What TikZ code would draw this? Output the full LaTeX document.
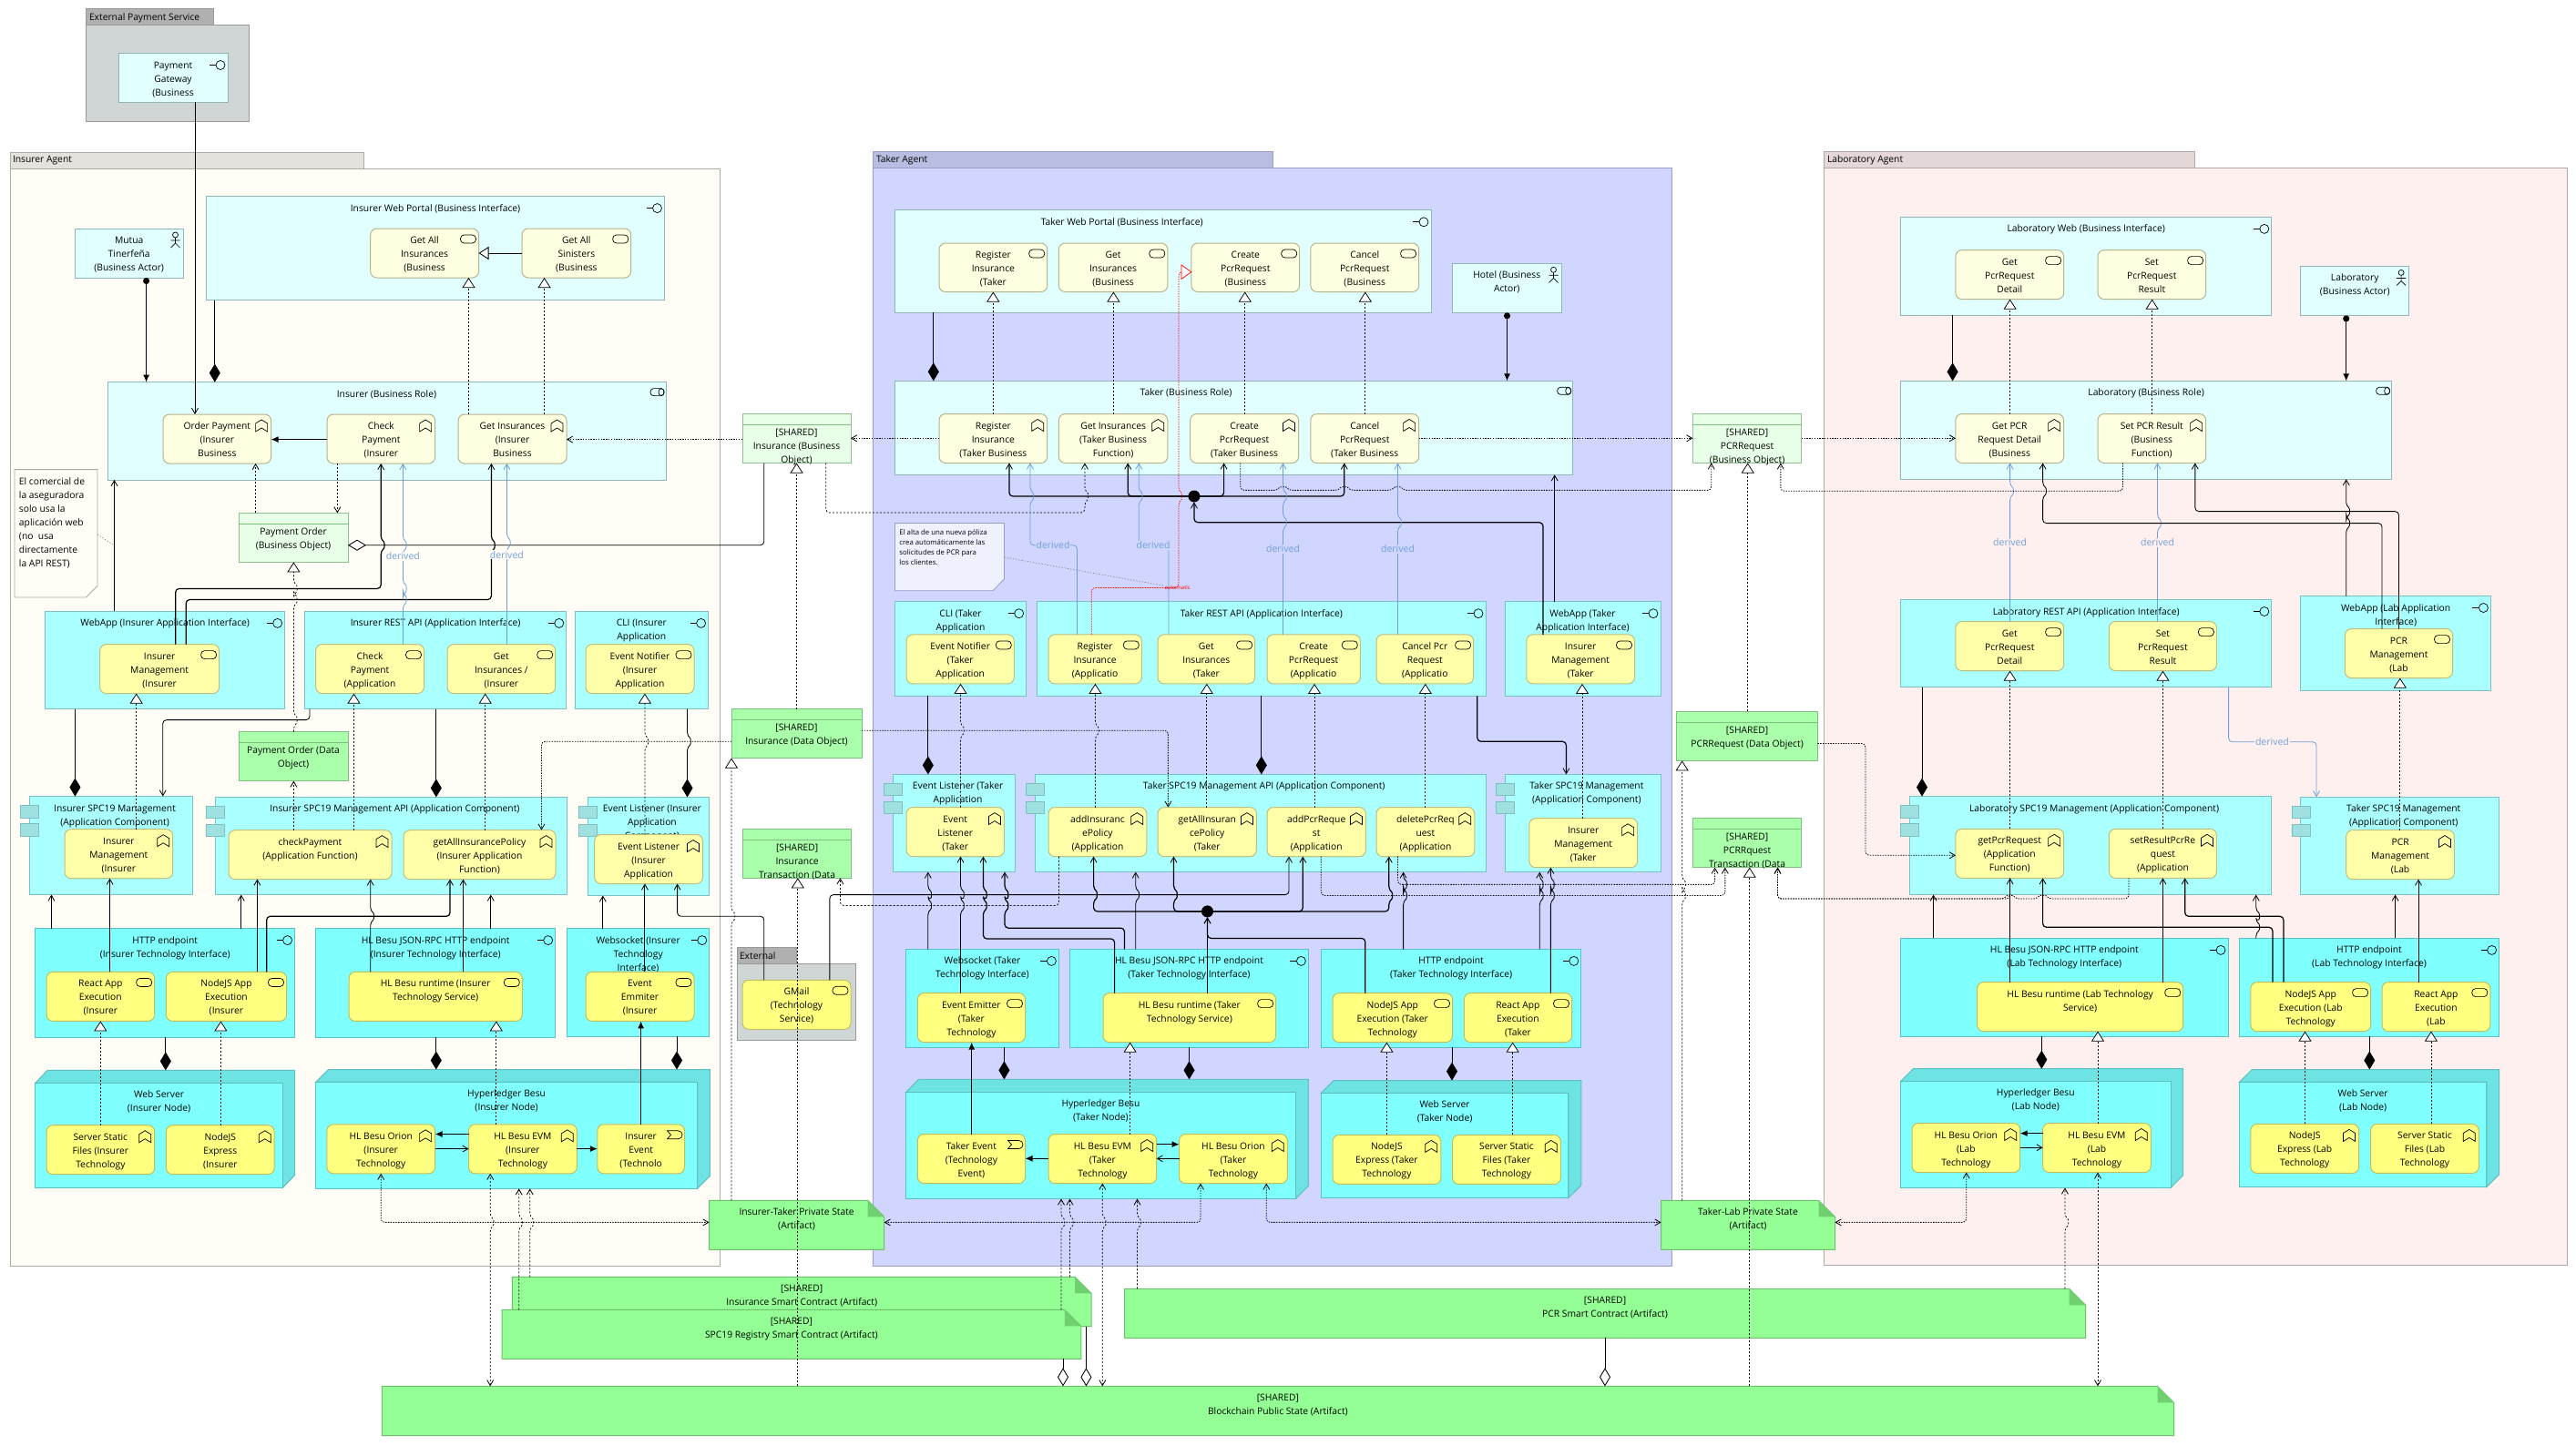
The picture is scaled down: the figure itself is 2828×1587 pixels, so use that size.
\documentclass[tikz,border=0pt]{standalone}
\usepackage{fontspec}
\setmainfont{Open Sans}
\usetikzlibrary{arrows.meta}
\definecolor{bizE}{HTML}{E1FFFF}\definecolor{bizS}{HTML}{8FB5B5}
\definecolor{bizF}{HTML}{FFFFE1}\definecolor{bizFS}{HTML}{B5B58F}
\definecolor{appE}{HTML}{AAFFFF}\definecolor{appS}{HTML}{7FBFBF}
\definecolor{appF}{HTML}{FFFFAA}\definecolor{appFS}{HTML}{BFBF7F}
\definecolor{tecE}{HTML}{80FFFF}\definecolor{tecS}{HTML}{5FBFBF}
\definecolor{tecF}{HTML}{FFFF80}\definecolor{tecFS}{HTML}{BFBF60}
\definecolor{bobj}{HTML}{E8FFE8}\definecolor{bobjS}{HTML}{8FBF8F}
\definecolor{dobj}{HTML}{AAFFAA}\definecolor{dobjS}{HTML}{7FBF7F}
\definecolor{artE}{HTML}{94FF94}\definecolor{artS}{HTML}{6FBF6F}\definecolor{artD}{HTML}{70D070}
\definecolor{ndTop}{HTML}{6EE3E3}
\definecolor{cmpF}{HTML}{9FE0E0}
\definecolor{insB}{HTML}{FFFDF6}\definecolor{insT}{HTML}{E4E2DC}\definecolor{insS}{HTML}{ACACA6}
\definecolor{takB}{HTML}{D0D6FF}\definecolor{takT}{HTML}{B8BEE2}\definecolor{takS}{HTML}{9A9FC5}
\definecolor{labB}{HTML}{FFF0F0}\definecolor{labT}{HTML}{E4D7D7}\definecolor{labS}{HTML}{B0A8A8}
\definecolor{extB}{HTML}{D0D6D6}\definecolor{extT}{HTML}{B0B0B0}\definecolor{extS}{HTML}{999999}
\definecolor{derC}{HTML}{6F9FD8}
\newcommand{\barb}{Straight Barb[length=6pt,width=7pt,line width=.8pt]}
\tikzset{
 elbase/.style={inner sep=0pt,outer sep=0pt,font=\fontsize{10.3}{15}\selectfont},
 bE/.style={elbase,draw=bizS,fill=bizE,line width=1pt},
 bF/.style={elbase,draw=bizFS,fill=bizF,line width=1pt,rounded corners=7pt},
 aE/.style={elbase,draw=appS,fill=appE,line width=1pt},
 aF/.style={elbase,draw=appFS,fill=appF,line width=1pt,rounded corners=7pt},
 tE/.style={elbase,draw=tecS,fill=tecE,line width=1pt},
 tF/.style={elbase,draw=tecFS,fill=tecF,line width=1pt,rounded corners=7pt},
 bO/.style={elbase,draw=bobjS,fill=bobj,line width=1pt},
 dO/.style={elbase,draw=dobjS,fill=dobj,line width=1pt},
 plain/.style={elbase},
 ico/.style={draw=black,line width=.7pt},
 conn/.style={line width=.85pt,black,rounded corners=4pt},
 thk/.style={line width=1.2pt},
 serv/.style={conn,-{\barb}},
 comp/.style={conn,-{Diamond[length=20pt,width=12pt]}},
 aggr/.style={conn,-{Diamond[open,fill=white,length=20pt,width=12pt]}},
 real/.style={conn,line width=.75pt,dash pattern=on 2pt off 2pt,-{Triangle[open,fill=white,length=11pt,width=14pt]}},
 gen/.style={conn,-{Triangle[open,fill=white,length=11pt,width=14pt]}},
 flw/.style={conn,line width=.75pt,dash pattern=on 2pt off 2pt,-{\barb}},
 acc/.style={conn,line width=.85pt,dash pattern=on 1.4pt off 1.4pt,-{\barb}},
 accb/.style={conn,line width=.85pt,dash pattern=on 1.4pt off 1.4pt,{\barb}-{\barb}},
 flwb/.style={conn,line width=.75pt,dash pattern=on 2pt off 2pt,{\barb}-{\barb}},
 trig/.style={conn,line width=1.1pt,-{Latex[length=8pt,width=7pt]}},
 assg/.style={conn,line width=1.1pt,{Circle[length=7pt]}-{Latex[length=8pt,width=7pt]}},
 der/.style={line width=.8pt,derC,rounded corners=4pt,-{\barb}},
 dlab/.style={inner sep=1pt,outer sep=0pt,text=derC,font=\fontsize{10.5}{13}\selectfont},
 ndot/.style={line width=.7pt,gray,dash pattern=on 1.2pt off 2pt},
 ball/.style={circle,fill=black,minimum size=13pt,inner sep=0pt,outer sep=0pt},
}
\newcommand{\ee}[8][16.5]{%
 \pgfmathsetmacro\ew{#6-#4}\pgfmathsetmacro\eh{#7-#5}%
 \node[#3,anchor=north west,minimum width=\ew pt,minimum height=\eh pt] (#2) at (#4,#5) {\parbox[t][\eh pt][t]{\ew pt}{\centering\rule{0pt}{#1pt}#8}};}
\newcommand{\CT}{\leftskip=8pt plus 1fil\relax}
\newcommand{\LT}{\leftskip=5pt\rightskip=0pt plus 1fil\relax}
% icons
\newcommand{\icI}[1]{\begin{scope}[shift={(#1.north east)}]\draw[ico] (-20,13)--(-13,13);\draw[ico] (-8,13) circle (5pt);\end{scope}}
\newcommand{\icS}[1]{\begin{scope}[shift={(#1.north east)}]\draw[ico,rounded corners=4pt] (-20,7) rectangle (-3,16);\end{scope}}
\newcommand{\icF}[1]{\begin{scope}[shift={(#1.north east)}]\draw[ico] (-17,19)--(-17,10)--(-10.5,6)--(-4,10)--(-4,19)--(-10.5,15)--cycle;\end{scope}}
\newcommand{\icR}[1]{\begin{scope}[shift={(#1.north east)}]\draw[ico,rounded corners=3.5pt] (-17,7) rectangle (-2,15);\draw[ico] (-5,11) ellipse (3pt and 4pt);\end{scope}}
\newcommand{\icE}[1]{\begin{scope}[shift={(#1.north east)}]\draw[ico] (-19,7)--(-7,7) .. controls (-1,7) and (-1,16) .. (-7,16) -- (-19,16) -- (-15,11.5) -- cycle;\end{scope}}
\newcommand{\icA}[1]{\begin{scope}[shift={(#1.north east)}]\draw[ico] (-8.5,7) circle (3pt);\draw[ico] (-8.5,10)--(-8.5,16)--(-13.5,21) (-8.5,16)--(-3.5,21) (-13.5,13)--(-3.5,13);\end{scope}}
\newcommand{\cmpR}[1]{\begin{scope}[shift={(#1.north west)}]\draw[fill=cmpF,draw=appS,line width=.8pt] (-10,10) rectangle (10,23.4) (-10,30) rectangle (10,43.4);\end{scope}}
\newcommand{\hdr}[1]{\draw[draw=dobjS,line width=1pt] ([yshift=-12pt]#1.north west) -- ([yshift=-12pt]#1.north east);}
\newcommand{\art}[6]{%
 \fill[artE] (#2,#3)--(#4-18,#3)--(#4,#3+18)--(#4,#5)--(#2,#5)--cycle;
 \draw[artS,line width=1pt] (#4,#3+18)--(#4,#5)--(#2,#5)--(#2,#3)--(#4-18,#3)--(#4,#3+18);
 \fill[artD] (#4-18,#3)--(#4,#3+18)--(#4-18,#3+18)--cycle;
 \ee{#1}{plain}{#2}{#3}{#4}{#5}{#6}}
\newcommand{\nbox}[8]{% name x1 y1 x2 y2 fronttop frontright text
 \draw[tecS,fill=ndTop,line width=1pt] (#2,#6)--(#2+#4-#7,#3)--(#4,#3)--(#4,#5-#6+#3)--(#7,#5)--(#7,#6)--cycle;
 \draw[tecS,fill=tecE,line width=1pt] (#2,#6) rectangle (#7,#5);
 \pgfmathsetmacro\rsk{#4-#7}%
 \ee[30]{#1}{plain}{#2}{#3}{#4}{#5}{\rightskip=\rsk pt plus 1fil\relax #8}}
\newcommand{\vcn}[4]{\draw[#1] (#2 -| #3,0) -- (#4 -| #3,0);}
\newcommand{\hcn}[4]{\draw[#1] (#2 |- 0,#3) -- (#4 |- 0,#3);}
% line hops inside a path: vertical going up / down, horizontal going right / left
\newcommand{\VU}[2]{-- (#1,#2+6) .. controls (#1+4,#2+3) and (#1+4,#2-3) .. (#1,#2-6) }
\newcommand{\VD}[2]{-- (#1,#2-6) .. controls (#1+4,#2-3) and (#1+4,#2+3) .. (#1,#2+6) }
\newcommand{\HR}[2]{-- (#1-6,#2) .. controls (#1-3,#2-4) and (#1+3,#2-4) .. (#1+6,#2) }
\newcommand{\HL}[2]{-- (#1+6,#2) .. controls (#1+3,#2-4) and (#1-3,#2-4) .. (#1-6,#2) }
\begin{document}
\begin{tikzpicture}[x=1pt,y=-1pt]
\useasboundingbox (0,0) rectangle (2828,1587);
\fill[white] (0,0) rectangle (2828,1587);
% ---------- groups
\draw[extS,fill=extT,line width=1pt] (94.5,10) rectangle (234.5,28);
\draw[extS,fill=extB,line width=1pt] (94.5,28) rectangle (273,133);
\node[elbase,anchor=west] (gExt) at (98,19.5) {External Payment Service};
\draw[insS,fill=insT,line width=1pt] (11,167) rectangle (399,185);
\draw[insS,fill=insB,line width=1pt] (11,185) rectangle (790,1390);
\node[elbase,anchor=west] (gIns) at (14,176.5) {Insurer Agent};
\draw[takS,fill=takT,line width=1pt] (958.8,166.5) rectangle (1397,184.4);
\draw[takS,fill=takB,line width=1pt] (958.8,184.4) rectangle (1835,1390.6);
\node[elbase,anchor=west] (gTak) at (962,176) {Taker Agent};
\draw[labS,fill=labT,line width=1pt] (2002.6,166.5) rectangle (2409.8,184.4);
\draw[labS,fill=labB,line width=1pt] (2002.6,184.4) rectangle (2818.4,1389.3);
\node[elbase,anchor=west] (gLab) at (2006,176) {Laboratory Agent};
\draw[extS,fill=extT,line width=1pt] (809,1040.6) rectangle (874,1058.5);
\draw[extS,fill=extB,line width=1pt] (809,1058.5) rectangle (939.4,1142.4);
\node[elbase,anchor=west] (gExt2) at (812,1050) {External};
% ---------- External Payment
\ee{pg}{bE}{130}{58.5}{250}{112}{Payment\\Gateway\\(Business}\icI{pg}
% ---------- Insurer business
\ee{iWeb}{bE}{226.6}{215.6}{729.5}{329.5}{Insurer Web Portal (Business Interface)}\icI{iWeb}
\ee{iGAI}{bF}{406.7}{251}{525.5}{305}{Get All\\Insurances\\(Business}\icS{iGAI}
\ee{iGAS}{bF}{573}{251}{692.7}{305}{Get All\\Sinisters\\(Business}\icS{iGAS}
\ee{iAct}{bE}{82.4}{251}{201}{305}{Mutua\\Tinerfeña\\(Business Actor)}\icA{iAct}
\ee{iRole}{bE}{118}{419.6}{731}{527}{Insurer (Business Role)}\icR{iRole}
\ee{iOP}{bF}{179}{455}{297.6}{509}{Order Payment\\(Insurer\\Business}\icF{iOP}
\ee{iCP}{bF}{359}{455}{477.6}{509}{Check\\Payment\\(Insurer}\icF{iCP}
\ee{iGI}{bF}{503}{455}{622}{509}{Get Insurances\\(Insurer\\Business}\icF{iGI}
% notes
\draw[insS,fill=insB,line width=.8pt] (16,515.6)--(107,515.6)--(107,643.5)--(94.5,656)--(16,656)--cycle;
\ee{n1}{plain}{16}{515.6}{107}{656}{\LT El comercial de\\la aseguradora\\solo usa la\\aplicación web\\(no\ \ usa\\directamente\\la API REST)}
\draw[takS,fill=takB!35!white,line width=.8pt] (982.4,574.5)--(1102.4,574.5)--(1102.4,636)--(1090,648.7)--(982.4,648.7)--cycle;
\ee[13]{n2}{plain}{982.4}{574.5}{1102.4}{648.7}{\fontsize{7.8}{11}\selectfont\leftskip=5pt\rightskip=0pt plus 1fil\relax El alta de una nueva póliza\\crea automáticamente las\\solicitudes de PCR para\\los clientes.}
\ee[24]{poB}{bO}{262}{563.4}{382}{617.4}{Payment Order\\(Business Object)}\hdr{poB}
\ee[24]{shIB}{bO}{815}{454.5}{934}{508.5}{[SHARED]\\Insurance (Business\\Object)}\hdr{shIB}
% ---------- Insurer application
\ee{iWA}{aE}{49.7}{671.4}{312.7}{778.6}{WebApp (Insurer Application Interface)}\icI{iWA}
\ee{iIMs}{aF}{109.7}{707.6}{240.6}{761.6}{Insurer\\Management\\(Insurer}\icS{iIMs}
\ee{iRA}{aE}{334.5}{671.4}{621.8}{778.6}{Insurer REST API (Application Interface)}\icI{iRA}
\ee{iCPa}{aF}{346.7}{707.6}{465.5}{761.6}{Check\\Payment\\(Application}\icS{iCPa}
\ee{iGIa}{aF}{491}{707.6}{609.7}{761.6}{Get\\Insurances /\\(Insurer}\icS{iGIa}
\ee{iCLI}{aE}{631}{671.4}{777.6}{778.6}{CLI (Insurer\\Application}\icI{iCLI}
\ee{iEN}{aF}{643}{707.6}{762}{761.6}{Event Notifier\\(Insurer\\Application}\icS{iEN}
\ee[24]{poD}{dO}{262}{803.6}{382}{857.6}{Payment Order (Data\\Object)}\hdr{poD}
\ee{iMg}{aE}{32.7}{874.5}{211.5}{982.6}{\CT Insurer SPC19 Management\\(Application Component)}\cmpR{iMg}
\ee{iMf}{aF}{71}{910.7}{189.7}{964.7}{Insurer\\Management\\(Insurer}\icF{iMf}
\ee{iAPI}{aE}{236.4}{875.4}{622.4}{982.6}{\CT Insurer SPC19 Management API (Application Component)}\cmpR{iAPI}
\ee{iChk}{aF}{251}{911.6}{430}{965.6}{checkPayment\\(Application Function)}\icF{iChk}
\ee{iGAP}{aF}{443}{911.6}{610}{965.6}{getAllInsurancePolicy\\(Insurer Application\\Function)}\icF{iGAP}
\ee{iEL}{aE}{645}{875.4}{778.8}{983.5}{\CT Event Listener (Insurer\\Application\\Component)}\cmpR{iEL}
\ee{iELf}{aF}{652.7}{916.5}{771.5}{970.5}{Event Listener\\(Insurer\\Application}\icF{iELf}
% ---------- Insurer technology
\ee{iHTTP}{tE}{38.8}{1019.6}{323.6}{1139.3}{HTTP endpoint\\(Insurer Technology Interface)}\icI{iHTTP}
\ee{iRe}{tF}{51}{1067.4}{169.7}{1121.4}{React App\\Execution\\(Insurer}\icS{iRe}
\ee{iNo}{tF}{182.4}{1067.4}{314.5}{1121.4}{NodeJS App\\Execution\\(Insurer}\icS{iNo}
\ee{iJR}{tE}{346.7}{1019.6}{609.7}{1139.3}{HL Besu JSON-RPC HTTP endpoint\\(Insurer Technology Interface)}\icI{iJR}
\ee{iRt}{tF}{383}{1067.4}{573.3}{1121.4}{HL Besu runtime (Insurer\\Technology Service)}\icS{iRt}
\ee{iWS}{tE}{622.4}{1019.6}{778.8}{1138.4}{Websocket (Insurer\\Technology\\Interface)}\icI{iWS}
\ee{iEm}{tF}{643}{1067.4}{762}{1121.4}{Event\\Emmiter\\(Insurer}\icS{iEm}
\nbox{iSrv}{38.8}{1175.4}{323.6}{1304.5}{1189.3}{310.3}{Web Server\\(Insurer Node)}
\ee{iSS}{tF}{51}{1235.7}{169.7}{1289.7}{Server Static\\Files (Insurer\\Technology}\icF{iSS}
\ee{iNE}{tF}{182.4}{1235.7}{301.2}{1289.7}{NodeJS\\Express\\(Insurer}\icF{iNE}
\nbox{iHL}{346.7}{1174.5}{779.4}{1305.4}{1188.4}{765.5}{Hyperledger Besu\\(Insurer Node)}
\ee{iOr}{tF}{358.8}{1234.8}{477.6}{1288.8}{HL Besu Orion\\(Insurer\\Technology}\icF{iOr}
\ee{iEV}{tF}{514.5}{1234.8}{633.3}{1288.8}{HL Besu EVM\\(Insurer\\Technology}\icF{iEV}
\ee{iEv}{tF}{655.8}{1234.8}{751.5}{1288.8}{Insurer\\Event\\(Technolo}\icE{iEv}
% ---------- shared
\ee[24]{shID}{dO}{803}{778.6}{946}{832.6}{[SHARED]\\Insurance (Data Object)}\hdr{shID}
\ee[24]{shIT}{dO}{815.8}{910.3}{934.5}{964.3}{[SHARED]\\Insurance\\Transaction (Data}\hdr{shIT}
\ee{gm}{tF}{815}{1076.3}{934}{1130.4}{GMail\\(Technology\\Service)}\icS{gm}
\ee[24]{shPB}{bO}{1858.4}{454.5}{1977.7}{508.5}{[SHARED]\\PCRRequest\\(Business Object)}\hdr{shPB}
\ee[24]{shPD}{dO}{1840.7}{781.3}{1995.4}{835.3}{[SHARED]\\PCRRequest (Data Object)}\hdr{shPD}
\ee[24]{shPT}{dO}{1858.4}{898.7}{1977.7}{952.7}{[SHARED]\\PCRRquest\\Transaction (Data}\hdr{shPT}
\art{itps}{778.5}{1318.3}{970.7}{1372.3}{Insurer-Taker Private State\\(Artifact)}
\art{tlps}{1823.5}{1318.3}{2014.5}{1372.3}{Taker-Lab Private State\\(Artifact)}
\art{isc}{562.4}{1402.3}{1198}{1456.7}{[SHARED]\\Insurance Smart Contract (Artifact)}
\art{spc}{551}{1438.3}{1186.8}{1492.3}{[SHARED]\\SPC19 Registry Smart Contract (Artifact)}
\art{pcr}{1234.5}{1415.3}{2289.6}{1469.3}{[SHARED]\\PCR Smart Contract (Artifact)}
\art{bc}{419.3}{1522.3}{2386.5}{1576.7}{[SHARED]\\Blockchain Public State (Artifact)}
% ---------- Taker business
\ee{tWeb}{bE}{982.4}{230.8}{1571}{343.3}{\rightskip=90pt plus 1fil\relax Taker Web Portal (Business Interface)}\icI{tWeb}
\ee{tRIs}{bF}{1031}{267}{1149.7}{320.5}{Register\\Insurance\\(Taker}\icS{tRIs}
\ee{tGIs}{bF}{1162.4}{267}{1281.8}{320.5}{Get\\Insurances\\(Business}\icS{tGIs}
\ee{tCPs}{bF}{1307.9}{267}{1426.7}{320.5}{Create\\PcrRequest\\(Business}\icS{tCPs}
\ee{tXPs}{bF}{1438.8}{267}{1557.6}{320.5}{Cancel\\PcrRequest\\(Business}\icS{tXPs}
\ee{tAct}{bE}{1594.5}{289.3}{1714}{343.3}{Hotel (Business\\Actor)}\icA{tAct}
\ee{tRole}{bE}{982.4}{418.3}{1726.7}{521.4}{\rightskip=105pt plus 1fil\relax Taker (Business Role)}\icR{tRole}
\ee{tRIf}{bF}{1031}{454.5}{1149.7}{508.5}{Register\\Insurance\\(Taker Business}\icF{tRIf}
\ee{tGIf}{bF}{1162.4}{454.5}{1281.8}{508.5}{Get Insurances\\(Taker Business\\Function)}\icF{tGIf}
\ee{tCPf}{bF}{1306.7}{454.5}{1425.5}{508.5}{Create\\PcrRequest\\(Taker Business}\icF{tCPf}
\ee{tXPf}{bF}{1438.8}{454.5}{1557.6}{508.5}{Cancel\\PcrRequest\\(Taker Business}\icF{tXPf}
% Taker application
\ee{tCLI}{aE}{982.4}{660.7}{1126.7}{764.3}{CLI (Taker\\Application}\icI{tCLI}
\ee{tEN}{aF}{995}{696.9}{1113.3}{750.9}{Event Notifier\\(Taker\\Application}\icS{tEN}
\ee{tRA}{aE}{1138.8}{660.7}{1631}{764.3}{Taker REST API (Application Interface)}\icI{tRA}
\ee{tRIa}{aF}{1151}{696.9}{1253.3}{750.9}{Register\\Insurance\\(Applicatio}\icS{tRIa}
\ee{tGIa}{aF}{1271}{696.9}{1377.6}{750.9}{Get\\Insurances\\(Taker}\icS{tGIa}
\ee{tCPa}{aF}{1391}{696.9}{1493.3}{750.9}{Create\\PcrRequest\\(Applicatio}\icS{tCPa}
\ee{tXPa}{aF}{1511}{696.9}{1617.6}{750.9}{Cancel Pcr\\Request\\(Applicatio}\icS{tXPa}
\ee{tWA}{aE}{1652}{660.7}{1823}{764.3}{WebApp (Taker\\Application Interface)}\icI{tWA}
\ee{tIMs}{aF}{1675.8}{696.9}{1794.5}{750.9}{Insurer\\Management\\(Taker}\icS{tIMs}
\ee{tEL}{aE}{980.6}{850.4}{1114.5}{957.6}{\CT Event Listener (Taker\\Application}\cmpR{tEL}
\ee{tELf}{aF}{995}{886.6}{1102.4}{940.6}{Event\\Listener\\(Taker}\icF{tELf}
\ee{tAPI}{aE}{1136.4}{850.4}{1631}{957.6}{\CT Taker SPC19 Management API (Application Component)}\cmpR{tAPI}
\ee{tAI}{aF}{1151}{886.6}{1258.8}{940.6}{addInsuranc\\ePolicy\\(Application}\icF{tAI}
\ee{tGA}{aF}{1271}{886.6}{1379.4}{940.6}{getAllInsuran\\cePolicy\\(Taker}\icF{tGA}
\ee{tAP}{aF}{1391}{886.6}{1499.4}{940.6}{addPcrReque\\st\\(Application}\icF{tAP}
\ee{tDP}{aF}{1511}{886.6}{1618.8}{940.6}{deletePcrReq\\uest\\(Application}\icF{tDP}
\ee{tMg}{aE}{1652.7}{850.4}{1823}{957.6}{\CT Taker SPC19 Management\\(Application Component)}\cmpR{tMg}
\ee{tIMf}{aF}{1678.8}{898.7}{1797.6}{952.7}{Insurer\\Management\\(Taker}\icF{tIMf}
% Taker technology
\ee{tWS}{tE}{994.5}{1042.4}{1162.4}{1150.4}{Websocket (Taker\\Technology Interface)}\icI{tWS}
\ee{tEm}{tF}{1007.3}{1090.6}{1125.5}{1144.6}{Event Emitter\\(Taker\\Technology}\icS{tEm}
\ee{tJR}{tE}{1174.5}{1042.4}{1436.4}{1150.4}{HL Besu JSON-RPC HTTP endpoint\\(Taker Technology Interface)}\icI{tJR}
\ee{tRt}{tF}{1211}{1090.6}{1400.6}{1144.6}{HL Besu runtime (Taker\\Technology Service)}\icS{tRt}
\ee{tHTTP}{tE}{1450.3}{1042.4}{1735.8}{1150.4}{HTTP endpoint\\(Taker Technology Interface)}\icI{tHTTP}
\ee{tNo}{tF}{1463}{1090.6}{1594.5}{1144.6}{NodeJS App\\Execution (Taker\\Technology}\icS{tNo}
\ee{tRe}{tF}{1607.3}{1090.6}{1725.5}{1144.6}{React App\\Execution\\(Taker}\icS{tRe}
\nbox{tHL}{994.5}{1185.3}{1436.4}{1316.5}{1199.6}{1422.4}{Hyperledger Besu\\(Taker Node)}
\ee{tEv}{tF}{1007.3}{1245.5}{1125.5}{1299.6}{Taker Event\\(Technology\\Event)}\icE{tEv}
\ee{tEV}{tF}{1151}{1245.5}{1269.7}{1299.6}{HL Besu EVM\\(Taker\\Technology}\icF{tEV}
\ee{tOr}{tF}{1294.5}{1245.5}{1413.3}{1299.6}{HL Besu Orion\\(Taker\\Technology}\icF{tOr}
\nbox{tSrv}{1450.3}{1186.6}{1735.8}{1315.6}{1200.4}{1721.8}{Web Server\\(Taker Node)}
\ee{tNE}{tF}{1463}{1246.4}{1581.8}{1300.4}{NodeJS\\Express (Taker\\Technology}\icF{tNE}
\ee{tSS}{tF}{1594.5}{1246.4}{1713.3}{1300.4}{Server Static\\Files (Taker\\Technology}\icF{tSS}
% ---------- Lab business
\ee{lWeb}{bE}{2086.6}{238.4}{2493.8}{346.4}{Laboratory Web (Business Interface)}\icI{lWeb}
\ee{lGs}{bF}{2146.9}{274.6}{2265.6}{328.6}{Get\\PcrRequest\\Detail}\icS{lGs}
\ee{lSs}{bF}{2303}{274.6}{2421.6}{328.6}{Set\\PcrRequest\\Result}\icS{lSs}
\ee{lAct}{bE}{2525.9}{292.4}{2644.6}{346.4}{Laboratory\\(Business Actor)}\icA{lAct}
\ee{lRole}{bE}{2086.6}{418.3}{2625.6}{526.3}{Laboratory (Business Role)}\icR{lRole}
\ee{lGf}{bF}{2146.9}{454.5}{2265.6}{508.5}{Get PCR\\Request Detail\\(Business}\icF{lGf}
\ee{lSf}{bF}{2303}{454.5}{2421.6}{508.5}{Set PCR Result\\(Business\\Function)}\icF{lSf}
% Lab application
\ee{lRA}{aE}{2086.6}{658.5}{2493.8}{754.5}{Laboratory REST API (Application Interface)}\icI{lRA}
\ee{lGa}{aF}{2146.9}{682.6}{2265.6}{736.6}{Get\\PcrRequest\\Detail}\icS{lGa}
\ee{lSa}{aF}{2315.4}{682.6}{2433.4}{736.6}{Set\\PcrRequest\\Result}\icS{lSa}
\ee{lWA}{aE}{2525.9}{654.5}{2734.4}{758.5}{WebApp (Lab Application\\Interface)}\icI{lWA}
\ee{lPMs}{aF}{2574.4}{690.6}{2692.5}{744.6}{PCR\\Management\\(Lab}\icS{lPMs}
\ee{lAPI}{aE}{2096.4}{874.6}{2493.8}{982.6}{\CT Laboratory SPC19 Management (Application Component)}\cmpR{lAPI}
\ee{lGf2}{aF}{2146.9}{910.3}{2265.6}{964.3}{getPcrRequest\\(Application\\Function)}\icF{lGf2}
\ee{lSf2}{aF}{2315.4}{910.3}{2433.4}{964.3}{setResultPcrRe\\quest\\(Application}\icF{lSf2}
\ee{lMg}{aE}{2525.9}{875.4}{2743.6}{982.6}{\CT Taker SPC19 Management\\(Application Component)}\cmpR{lMg}
\ee{lPMf}{aF}{2575.7}{911.6}{2694.4}{965.6}{PCR\\Management\\(Lab}\icF{lPMf}
% Lab technology
\ee{lJR}{tE}{2086.6}{1030.4}{2446}{1138.4}{HL Besu JSON-RPC HTTP endpoint\\(Lab Technology Interface)}\icI{lJR}
\ee{lRt}{tF}{2170.5}{1078.6}{2396.7}{1132.6}{HL Besu runtime (Lab Technology\\Service)}\icS{lRt}
\ee{lHTTP}{tE}{2458.4}{1030.4}{2743.6}{1138.4}{HTTP endpoint\\(Lab Technology Interface)}\icI{lHTTP}
\ee{lNo}{tF}{2470.8}{1078.6}{2602.6}{1132.6}{NodeJS App\\Execution (Lab\\Technology}\icS{lNo}
\ee{lRe}{tF}{2615}{1078.6}{2733.8}{1132.6}{React App\\Execution\\(Lab}\icS{lRe}
\nbox{lHL}{2086.6}{1173.7}{2396.7}{1304.5}{1187.5}{2383}{Hyperledger Besu\\(Lab Node)}
\ee{lOr}{tF}{2099}{1233.5}{2217.7}{1287.5}{HL Besu Orion\\(Lab\\Technology}\icF{lOr}
\ee{lEV}{tF}{2242.6}{1233.5}{2361.3}{1287.5}{HL Besu EVM\\(Lab\\Technology}\icF{lEV}
\nbox{lSrv}{2458.4}{1174.5}{2743.6}{1303.6}{1188.4}{2729.8}{Web Server\\(Lab Node)}
\ee{lNE}{tF}{2470.8}{1234.4}{2589.5}{1288.4}{NodeJS\\Express (Lab\\Technology}\icF{lNE}
\ee{lSS}{tF}{2602.6}{1234.4}{2721.3}{1288.4}{Server Static\\Files (Lab\\Technology}\icF{lSS}
% ========== connectors: Insurer
\vcn{serv}{pg.south}{214}{iOP.north}
\vcn{assg}{iAct.south}{160.6}{iRole.north}
\vcn{comp}{iWeb.south}{235.8}{iRole.north}
\vcn{real}{iGI.north}{514.5}{iGAI.south}
\vcn{real}{iGI.north}{597.6}{iGAS.south}
\hcn{gen}{iGAS.west}{278}{iGAI.east}
\hcn{trig}{iCP.west}{482.6}{iOP.east}
\hcn{acc}{shIB.west}{482.6}{iGI.east}
\vcn{flw}{poB.north}{280.6}{iOP.south}
\vcn{flw}{iCP.south}{370.3}{poB.north}
\draw[aggr] (shIB.south -| 838.8,0) -- (838.8,598.7) -- (poB.east |- 0,598.7);
\vcn{serv}{iWA.north}{125.5}{iRole.south}
\draw[serv,thk] (iIMs.north -| 192.7,0) -- (192.7,646.4) -- (418.2,646.4) \VU{418.2}{598.7} -- (iCP.south -| 418.2,0);
\draw[serv,thk] (iIMs.north -| 204.2,0) -- (204.2,658.5) -- (539.4,658.5) \VU{539.4}{598.7} -- (iGI.south -| 539.4,0);
\draw[der] (iCPa.north -| 442.4,0) \VU{442.4}{658.5} \VU{442.4}{646.4} \VU{442.4}{598.7} -- (iCP.south -| 442.4,0);
\draw[der] (iGIa.north -| 556.4,0) \VU{556.4}{596} -- (iGI.south -| 556.4,0);
\node[dlab,fill=insB] (d1) at (442.4,610.7) {derived};
\node[dlab,fill=insB] (d2) at (556.4,609.4) {derived};
\draw[ndot] (n1.east |- 0,587) -- (124,598);
\draw[real] (poD.north -| 322.4,0) \VU{322.4}{790.6} \VU{322.4}{658.5} \VU{322.4}{646.4} -- (poB.south -| 322.4,0);
\vcn{flw}{iChk.north}{322.4}{poD.south}
\draw[serv] (iRA.south -| 340,0) -- (340,790.6) -- (178.8,790.6) -- (iMg.north -| 178.8,0);
\vcn{comp}{iWA.south}{82.4}{iMg.north}
\vcn{real}{iMf.north}{149.7}{iIMs.south}
\vcn{real}{iChk.north}{388.5}{iCPa.south}
\vcn{real}{iGAP.north}{532.7}{iGIa.south}
\vcn{comp}{iRA.south}{478.8}{iAPI.north}
\draw[comp] (iCLI.south -| 754.5,0) \VD{754.5}{814.3} -- (iEL.north -| 754.5,0);
\draw[real] (iELf.north -| 707.9,0) \VU{707.9}{814.3} -- (iEN.south -| 707.9,0);
\draw[acc] (shID.west |- 0,814.3) -- (594.5,814.3) -- (iGAP.north -| 594.5,0);
\vcn{real}{shID.north}{874.5}{shIB.south}
\draw[real] (itps.north -| 803,0) \VU{803}{1006.3} -- (shID.south -| 803,0);
\vcn{real}{bc.north}{875.8}{shIT.south}
\vcn{serv}{iHTTP.north}{56.4}{iMg.south}
\vcn{serv}{iHTTP.north}{264.8}{iAPI.south}
\vcn{serv}{iRe.north}{120.6}{iMf.south}
\vcn{serv}{iNo.north}{282.4}{iChk.south}
\draw[serv,thk] (iNo.north -| 292.7,0) -- (292.7,1006.3) -- (494,1006.3) -- (iGAP.south -| 494,0);
\draw[serv] (iRt.north -| 406.7,0) \VU{406.7}{1006.3} -- (iChk.south -| 406.7,0);
\vcn{serv}{iRt.north}{508.5}{iGAP.south}
\vcn{serv}{iJR.north}{538.8}{iAPI.south}
\vcn{serv}{iWS.north}{661.8}{iEL.south}
\vcn{serv}{iEm.north}{707.9}{iELf.south}
\draw[serv] (gm.north -| 838.8,0) -- (838.8,1006.3) -- (743.6,1006.3) -- (iELf.south -| 743.6,0);
\draw[serv] (gm.north -| 910.9,0) -- (910.9,982.6) -- (1415,982.6) -- (tAP.south -| 1415,0);
\draw[flw] (tAI.south -| 1162.4,0) -- (1162.4,994.6) -- (922.4,994.6) -- (shIT.south -| 922.4,0);
\vcn{comp}{iHTTP.south}{181.8}{iSrv.north}
\vcn{comp}{iJR.south}{478.8}{iHL.north}
\vcn{comp}{iWS.south}{743}{iHL.north}
\vcn{real}{iSS.north}{110.3}{iRe.south}
\vcn{real}{iNE.north}{242.4}{iNo.south}
\vcn{real}{iEV.north}{544.8}{iRt.south}
\vcn{trig}{iEv.north}{703.6}{iEm.south}
\hcn{trig}{iEV.west}{1245.5}{iOr.east}
\hcn{serv}{iOr.east}{1261.6}{iEV.west}
\hcn{trig}{iEV.east}{1261.6}{iEv.west}
\draw[accb] (itps.west |- 0,1342.4) -- (418.2,1342.4) -- (iOr.south -| 418.2,0);
\draw[flwb] (bc.north -| 538.2,0) \VU{538.2}{1342.4} -- (iEV.south -| 538.2,0);
\draw[flw] (spc.north -| 569.7,0) \VU{569.7}{1342.4} -- (iHL.south -| 569.7,0);
\draw[flw] (isc.north -| 581.8,0) \VU{581.8}{1342.4} -- (iHL.south -| 581.8,0);
\draw[flw] (spc.north -| 1165,0) \VU{1165}{1342.4} -- (tHL.south -| 1165,0);
\draw[flw] (isc.north -| 1174.5,0) \VU{1174.5}{1342.4} -- (tHL.south -| 1174.5,0);
\draw[flw] (pcr.north -| 1248.5,0) \VU{1248.5}{1342.4} -- (tHL.south -| 1248.5,0);
\draw[flw] (pcr.north -| 2266.9,0) \VU{2266.9}{1342.4} -- (lHL.south -| 2266.9,0);
\draw[flwb] (bc.north -| 1210.3,0) \VU{1210.3}{1342.4} -- (tEV.south -| 1210.3,0);
\vcn{flwb}{bc.north}{2303}{lEV.south}
\vcn{aggr}{spc.south}{1167}{bc.north}
\vcn{aggr}{isc.south}{1192.4}{bc.north}
\vcn{aggr}{pcr.south}{1762}{bc.north}
% ========== connectors: Taker
\draw[accb] (itps.east |- 0,1342.4) -- (1318,1342.4) -- (tOr.south -| 1318,0);
\draw[accb] (tOr.south -| 1390.3,0) -- (1390.3,1342.4) -- (tlps.west |- 0,1342.4);
\draw[accb] (tlps.east |- 0,1342.4) -- (2158.7,1342.4) -- (lOr.south -| 2158.7,0);
\draw[real] (tlps.north -| 1846.6,0) \VU{1846.6}{983.5} \VU{1846.6}{971.4} -- (shPD.south -| 1846.6,0);
\vcn{real}{bc.north}{1920.7}{shPT.south}
\vcn{real}{shPD.north}{1918.7}{shPB.south}
\draw[acc] (shPD.east |- 0,816.5) -- (2047.9,816.5) -- (2047.9,939.3) -- (lGf2.west |- 0,939.3);
\vcn{comp}{tWeb.south}{1024.8}{tRole.north}
\vcn{assg}{tAct.south}{1654.5}{tRole.north}
\vcn{real}{tRIf.north}{1090.3}{tRIs.south}
\vcn{real}{tGIf.north}{1222.4}{tGIs.south}
\vcn{real}{tCPf.north}{1366.7}{tCPs.south}
\vcn{real}{tXPf.north}{1498.8}{tXPs.south}
\hcn{acc}{tRIf.west}{481.3}{shIB.east}
\hcn{acc}{tXPf.east}{481.3}{shPB.west}
\hcn{acc}{shPB.east}{481.3}{lGf.west}
\draw[flw] (shIB.south -| 906.7,0) -- (906.7,563) -- (1190.9,563) \VU{1190.9}{545} -- (tGIf.south -| 1190.9,0);
\draw[acc] (tCPf.south -| 1361.8,0) -- (1361.8,538.4) \HR{1408.5}{538.4} \HR{1475.8}{538.4} \HR{1534.5}{538.4} -- (1878.7,538.4) -- (shPB.south -| 1878.7,0);
\node[ball] (j1) at (1310.9,545) {};
\draw[serv,thk] (j1.center) -- (1107.9,545) -- (tRIf.south -| 1107.9,0);
\draw[serv,thk] (j1.center) -- (1238.2,545) -- (tGIf.south -| 1238.2,0);
\draw[serv,thk] (j1.center) -- (1343.6,545) -- (tCPf.south -| 1343.6,0);
\draw[serv,thk] (j1.center) -- (1408.5,545) -- (1475.8,545) -- (tXPf.south -| 1475.8,0);
\draw[serv,thk] (tIMs.north -| 1693.9,0) -- (1693.9,573.7) -- (1310.9,573.7) -- (j1.south);
\vcn{serv}{tWA.north}{1706.7}{tRole.south}
\draw[der] (tRIa.north -| 1182.4,0) -- (1182.4,598.7) -- (1130.9,598.7) \VU{1130.9}{545} -- (tRIf.south -| 1130.9,0);
\draw[der] (tGIa.north -| 1283,0) -- (1283,598.7) -- (1250.3,598.7) \VU{1250.3}{545} -- (tGIf.south -| 1250.3,0);
\draw[der] (tCPa.north -| 1408.5,0) \VU{1408.5}{573.7} \VU{1408.5}{545} -- (tCPf.south -| 1408.5,0);
\draw[der] (tXPa.north -| 1534.5,0) \VU{1534.5}{573.7} -- (tXPf.south -| 1534.5,0);
\node[dlab,fill=takB] (d3) at (1156,599) {derived};
\node[dlab,fill=takB] (d4) at (1266,599) {derived};
\node[dlab,fill=takB] (d5) at (1408.5,603) {derived};
\node[dlab,fill=takB] (d6) at (1534.5,603) {derived};
\draw[red,line width=.7pt,rounded corners=4pt,dash pattern=on 1.5pt off 1.2pt] (tRIa.north -| 1198.2,0) -- (1198.2,645.5) -- (1293.9,645.5) \VU{1293.9}{545} -- (1293.9,298.7) -- (1297,298.7);
\draw[red,fill=white,line width=.7pt] (tCPs.west |- 0,298.7) -- (1297,291) -- (1297,306.4) -- cycle;
\draw[ndot] (n2.east |- 0,612) -- (1277,643);
\node[inner sep=0pt,text=red,font=\fontsize{6}{7}\selectfont] (autoL) at (1292.7,645.5) {automatic};
\vcn{comp}{tCLI.south}{1018.8}{tEL.north}
\vcn{comp}{tRA.south}{1384.8}{tAPI.north}
\draw[serv,thk] (tRA.south -| 1621.8,0) -- (1621.8,814.3) -- (1719.4,814.3) -- (tMg.north -| 1719.4,0);
\draw[real] (tELf.north -| 1054.5,0) \VU{1054.5}{802.2} -- (tEN.south -| 1054.5,0);
\draw[real] (tAI.north -| 1202.4,0) \VU{1202.4}{802.2} -- (tRIa.south -| 1202.4,0);
\vcn{real}{tGA.north}{1324.8}{tGIa.south}
\vcn{real}{tAP.north}{1443}{tCPa.south}
\vcn{real}{tDP.north}{1564.8}{tXPa.south}
\vcn{real}{tIMf.north}{1737}{tIMs.south}
\draw[acc] (shID.east |- 0,802.2) -- (1282.4,802.2) -- (tGA.north -| 1282.4,0);
\draw[serv] (tWS.north -| 1018.8,0) \VU{1018.8}{994.6} \VU{1018.8}{982.6} -- (tEL.south -| 1018.8,0);
\draw[serv] (tEm.north -| 1054.5,0) \VU{1054.5}{994.6} \VU{1054.5}{982.6} -- (tELf.south -| 1054.5,0);
\draw[serv,thk] (tRt.north -| 1223.6,0) -- (1223.6,1031) -- (1079.4,1031) \VU{1079.4}{994.6} \VU{1079.4}{982.6} -- (tELf.south -| 1079.4,0);
\draw[serv,thk] (tJR.north -| 1234.5,0) -- (1234.5,1019.2) -- (1103,1019.2) \VU{1103}{994.6} \VU{1103}{982.6} -- (tEL.south -| 1103,0);
\draw[serv] (tJR.north -| 1246.7,0) \VU{1246.7}{982.6} -- (tAPI.south -| 1246.7,0);
\node[ball] (j2) at (1325.5,1000.9) {};
\draw[serv,thk] (j2.center) -- (1200.6,1000.9) \VU{1200.6}{982.6} -- (tAI.south -| 1200.6,0);
\draw[serv,thk] (j2.center) -- (1288.5,1000.9) \VU{1288.5}{982.6} -- (tGA.south -| 1288.5,0);
\draw[serv,thk] (j2.center) -- (1430.3,1000.9) -- (tAP.south -| 1430.3,0);
\draw[serv,thk] (j2.center) -- (1524.8,1000.9) \VU{1524.8}{983.5} -- (tDP.south -| 1524.8,0);
\draw[serv,thk] (tRt.north -| 1325.5,0) -- (j2.south);
\draw[serv,thk] (tNo.north -| 1498.8,0) -- (1498.8,1030.4) -- (1325.5,1030.4) -- (j2.south);
\draw[serv] (tHTTP.north -| 1540.6,0) \VU{1540.6}{983.5} \VU{1540.6}{971.4} -- (tAPI.south -| 1540.6,0);
\draw[serv] (tHTTP.north -| 1690.3,0) \VU{1690.3}{983.5} \VU{1690.3}{971.4} -- (tMg.south -| 1690.3,0);
\draw[serv] (tRe.north -| 1702.4,0) \VU{1702.4}{983.5} \VU{1702.4}{971.4} -- (tIMf.south -| 1702.4,0);
\draw[acc] (tAP.south -| 1450.3,0) -- (1450.3,983.5) -- (1893.8,983.5) -- (shPT.south -| 1893.8,0);
\draw[acc] (tDP.south -| 1534.5,0) -- (1534.5,971.4) -- (1882.6,971.4) -- (shPT.south -| 1882.6,0);
\draw[acc] (lSf2.south -| 2337,0) -- (2337,987) \HL{2242.6}{987} \HL{2206.6}{987} -- (1951.5,987) -- (shPT.south -| 1951.5,0);
\draw[acc] (lGf2.south -| 2206.6,0) -- (2206.6,987) -- (1951.5,987) -- (shPT.south -| 1951.5,0);
\vcn{comp}{tWS.south}{1102.4}{tHL.north}
\vcn{comp}{tJR.south}{1305.5}{tHL.north}
\vcn{comp}{tHTTP.south}{1594}{tSrv.north}
\vcn{real}{tEV.north}{1240.6}{tRt.south}
\vcn{real}{tNE.north}{1522.4}{tNo.south}
\vcn{real}{tSS.north}{1660.6}{tRe.south}
\vcn{trig}{tEv.north}{1066.7}{tEm.south}
\hcn{trig}{tEV.west}{1272.3}{tEv.east}
\hcn{trig}{tEV.east}{1256.7}{tOr.west}
\hcn{serv}{tOr.west}{1272.3}{tEV.east}
% ========== connectors: Lab
\vcn{comp}{lWeb.south}{2143.6}{lRole.north}
\vcn{assg}{lAct.south}{2575.7}{lRole.north}
\vcn{real}{lGf.north}{2206.6}{lGs.south}
\vcn{real}{lSf.north}{2362.6}{lSs.south}
\draw[der] (lGa.north -| 2206.6,0) \VU{2206.6}{539.3} -- (lGf.south -| 2206.6,0);
\draw[der] (lSa.north -| 2368.5,0) \VU{2368.5}{574.6} -- (lSf.south -| 2368.5,0);
\node[dlab,fill=labB] (d7) at (2206.6,596) {derived};
\node[dlab,fill=labB] (d8) at (2368.5,596) {derived};
\draw[serv] (lPMs.north -| 2615,0) -- (2615,574.6) -- (2242.6,574.6) \VU{2242.6}{539.3} -- (lGf.south -| 2242.6,0);
\draw[serv] (lPMs.north -| 2633.4,0) -- (2633.4,561.6) -- (2409.8,561.6) -- (lSf.south -| 2409.8,0);
\draw[serv] (lWA.north -| 2575.7,0) \VU{2575.7}{574.6} \VU{2575.7}{561.6} -- (lRole.south -| 2575.7,0);
\draw[acc] (lSf.south -| 2330.5,0) -- (2330.5,539.3) -- (1954.8,539.3) -- (shPB.south -| 1954.8,0);
\vcn{comp}{lRA.south}{2110}{lAPI.north}
\vcn{real}{lGf2.north}{2206.6}{lGa.south}
\vcn{real}{lSf2.north}{2374.4}{lSa.south}
\vcn{real}{lPMf.north}{2634.8}{lPMs.south}
\draw[der] (lRA.south -| 2446.6,0) -- (2446.6,814.7) -- (2543,814.7) -- (lMg.north -| 2543,0);
\node[dlab,fill=labB] (d9) at (2494.4,814.7) {derived};
\vcn{serv}{lJR.north}{2122.6}{lAPI.south}
\vcn{serv}{lRt.north}{2206.6}{lGf2.south}
\vcn{serv}{lRt.north}{2374.4}{lSf2.south}
\draw[serv] (lHTTP.north -| 2476.7,0) \VU{2476.7}{1018.3} \VU{2476.7}{1006.3} -- (lAPI.south -| 2476.7,0);
\draw[serv,thk] (lNo.north -| 2495,0) -- (2495,1018.3) -- (2242.6,1018.3) -- (lGf2.south -| 2242.6,0);
\draw[serv,thk] (lNo.north -| 2506.9,0) -- (2506.9,1006.3) -- (2398.7,1006.3) -- (lSf2.south -| 2398.7,0);
\vcn{serv}{lHTTP.north}{2629.5}{lMg.south}
\vcn{serv}{lRe.north}{2655}{lPMf.south}
\vcn{comp}{lJR.south}{2241.3}{lHL.north}
\vcn{comp}{lHTTP.south}{2601.3}{lSrv.north}
\vcn{real}{lEV.north}{2303}{lRt.south}
\vcn{real}{lNE.north}{2530.5}{lNo.south}
\vcn{real}{lSS.north}{2668.9}{lRe.south}
\hcn{trig}{lEV.west}{1244.6}{lOr.east}
\hcn{serv}{lOr.east}{1260.3}{lEV.west}
\end{tikzpicture}
\end{document}
